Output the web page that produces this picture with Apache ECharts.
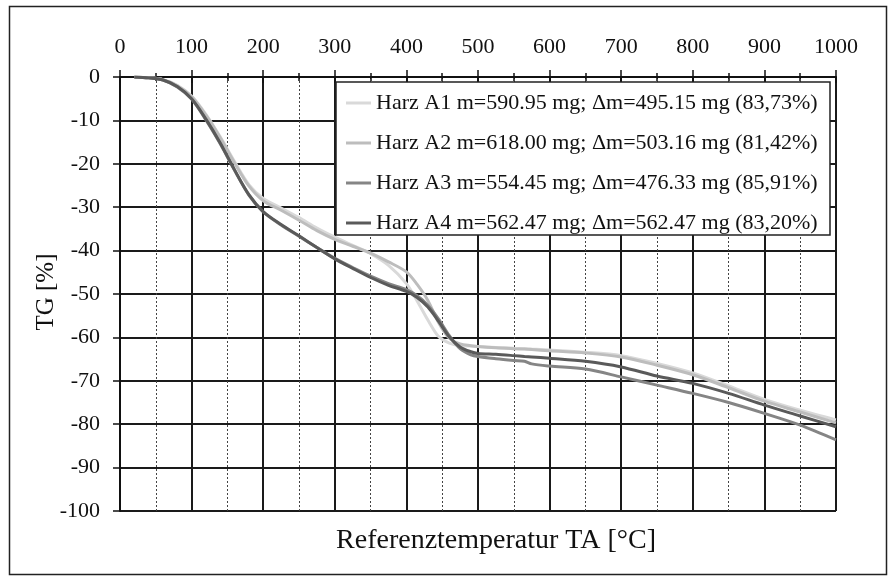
<!DOCTYPE html>
<html>
<head>
<meta charset="utf-8">
<script src="https://cdn.jsdelivr.net/npm/echarts@6/dist/echarts.min.js"></script>
<style>html,body{margin:0;padding:0;background:#fff;}#c{width:892px;height:579px;}</style>
</head>
<body>
<div id="c"></div>
<script>
const temps = [20, 40, 60, 80, 100, 120, 140, 160, 180, 200, 225, 250, 275, 300, 325, 350, 375, 400, 415, 430, 445, 460, 475, 490, 500, 525, 550, 565, 575, 600, 650, 700, 750, 800, 850, 900, 950, 1000];
const a1 = [0, -0.2, -0.6, -1.9, -4.4, -8.6, -13.8, -19.5, -24.8, -28.0, -30.2, -32.4, -34.8, -36.9, -38.8, -40.7, -43.4, -47.6, -51.6, -56.0, -59.8, -61.3, -61.9, -62.0, -62.1, -62.3, -62.5, -62.6, -62.7, -62.9, -63.4, -64.2, -66.0, -68.2, -71.2, -74.3, -76.8, -79.0];
const a2 = [0, -0.2, -0.6, -2.0, -4.5, -8.8, -14.0, -19.8, -25.1, -28.5, -30.7, -33.0, -35.4, -37.4, -39.0, -40.6, -42.6, -44.9, -47.8, -51.5, -56.6, -60.2, -61.5, -61.9, -62.1, -62.4, -62.6, -62.7, -62.8, -63.1, -63.6, -64.5, -66.4, -68.6, -71.6, -74.7, -77.2, -79.7];
const a3 = [0, -0.2, -0.7, -2.3, -5.1, -9.9, -15.4, -21.5, -27.2, -31.1, -34.1, -36.7, -39.3, -41.8, -43.9, -45.9, -47.6, -49.0, -50.4, -52.6, -55.8, -59.6, -62.6, -64.0, -64.4, -64.9, -65.3, -65.5, -66.1, -66.6, -67.3, -69.1, -71.0, -72.9, -75.0, -77.5, -80.2, -83.6];
const a4 = [0, -0.2, -0.7, -2.2, -5.0, -9.7, -15.2, -21.4, -27.1, -31.0, -34.0, -36.6, -39.3, -41.9, -44.1, -46.2, -48.0, -49.4, -50.8, -53.0, -56.3, -59.9, -62.2, -63.3, -63.7, -63.9, -64.2, -64.4, -64.5, -64.8, -65.5, -66.8, -68.9, -70.6, -72.9, -75.6, -78.1, -80.6];
const names = [
  'Harz A1 m=590.95 mg; Δm=495.15 mg (83,73%)',
  'Harz A2 m=618.00 mg; Δm=503.16 mg (81,42%)',
  'Harz A3 m=554.45 mg; Δm=476.33 mg (85,91%)',
  'Harz A4 m=562.47 mg; Δm=562.47 mg (83,20%)'
];
const colors = ['#d9d9d9', '#bdbdbd', '#858585', '#5a5a5a'];
const xTitle = 'Referenztemperatur TA [°C]';
const yTitle = 'TG [%]';

const FONT = '"Liberation Serif", "Times New Roman", serif';
const values = [a1, a2, a3, a4];
const chart = echarts.init(document.getElementById('c'), null, {renderer: 'canvas'});
const series = values.map((v, i) => ({
  name: names[i],
  type: 'line',
  xAxisIndex: 0,
  yAxisIndex: 0,
  data: temps.map((t, k) => [t, v[k]]),
  showSymbol: false,
  symbol: 'none',
  smooth: 0.3,
  lineStyle: {color: colors[i], width: 3},
  itemStyle: {color: colors[i]},
  z: 2 + i
}));

chart.setOption({
  animation: false,
  backgroundColor: '#fff',
  grid: {left: 120, right: 56, top: 77, bottom: 68},
  xAxis: [{
    type: 'value', position: 'top', min: 0, max: 1000, interval: 100,
    axisLine: {show: true, onZero: false, lineStyle: {color: '#111', width: 2}},
    axisTick: {show: true, length: 7, lineStyle: {color: '#111', width: 1.5}},
    minorTick: {show: true, splitNumber: 2, length: 4, lineStyle: {color: '#111', width: 1.5}},
    axisLabel: {show: true, margin: 19, color: '#111', fontFamily: FONT, fontSize: 22, formatter: v => String(v)},
    splitLine: {show: true, lineStyle: {color: '#1a1a1a', width: 2}},
    minorSplitLine: {show: true, lineStyle: {color: '#444', width: 1, type: [2, 2]}}
  }, {
    type: 'value', position: 'top', min: 0, max: 1000, interval: 100,
    axisLine: {show: false},
    axisTick: {show: true, inside: true, length: 6, lineStyle: {color: '#111', width: 1.5}},
    minorTick: {show: true, splitNumber: 2, length: 4, lineStyle: {color: '#111', width: 1.5}},
    axisLabel: {show: false},
    splitLine: {show: false}
  }],
  yAxis: [{
    type: 'value', min: -100, max: 0, interval: 10,
    axisLine: {show: true, onZero: false, lineStyle: {color: '#111', width: 2}},
    axisTick: {show: true, length: 7, lineStyle: {color: '#111', width: 1.5}},
    axisLabel: {show: true, margin: 20, color: '#111', fontFamily: FONT, fontSize: 22, formatter: v => String(v)},
    splitLine: {show: true, lineStyle: {color: '#1a1a1a', width: 2}}
  }],
  legend: {
    show: true,
    orient: 'vertical',
    left: 336, top: 82,
    padding: [10, 10, 10, 10],
    itemGap: 18,
    itemWidth: 25, itemHeight: 3,
    icon: 'rect',
    data: names,
    textStyle: {fontFamily: FONT, fontSize: 22, color: '#111', lineHeight: 20, padding: [0, 0, 0, 0]},
    z: 10
  },
  graphic: [
    {type: 'rect', z: 8, silent: true, shape: {x: 336, y: 82, width: 494, height: 153},
     style: {fill: '#fff', stroke: '#222', lineWidth: 1.5}},
    {type: 'rect', z: 8, silent: true, shape: {x: 9.5, y: 6.5, width: 877, height: 568},
     style: {fill: 'none', stroke: '#222', lineWidth: 1.5}},
    {type: 'text', z: 8, silent: true, x: 496, y: 541,
     style: {text: xTitle, fontFamily: FONT, fontSize: 28, fill: '#111', textAlign: 'center', textVerticalAlign: 'middle'}},
    {type: 'text', z: 8, silent: true, x: 46, y: 292, rotation: Math.PI / 2,
     style: {text: yTitle, fontFamily: FONT, fontSize: 25, fill: '#111', textAlign: 'center', textVerticalAlign: 'middle'}}
  ],
  series: series
});
</script>
</body>
</html>
